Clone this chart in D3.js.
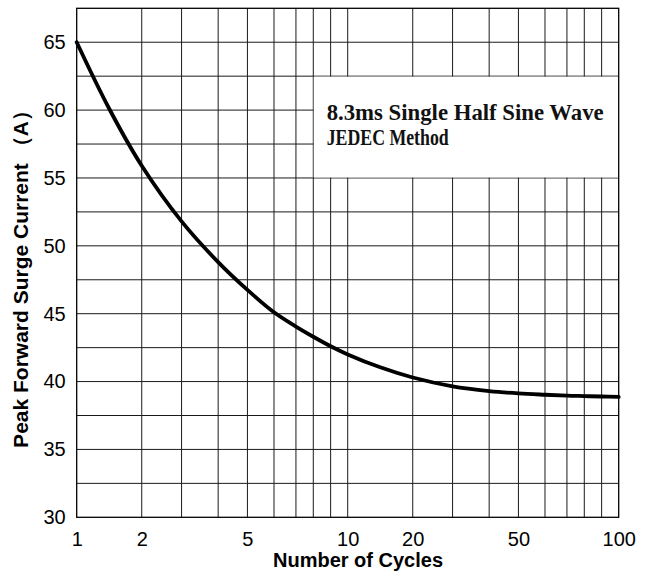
<!DOCTYPE html>
<html>
<head>
<meta charset="utf-8">
<script src="https://cdn.jsdelivr.net/npm/d3@7"></script>
<style>
    body { margin: 0; background: #fff; }
    svg { display: block; }
</style>
</head>
<body>
<svg id="surge-chart"></svg>
<script>
const CHART_WIDTH = 655;
const CHART_HEIGHT = 574;

const PADDING = {
    top: 8.3,
    bottom: 56.7,
    start: 76.7,
    end: 36.3
};

// data
const cycles = [1, 1.5, 2, 3, 4, 5, 6, 7, 8, 9, 10, 15, 20, 30, 40, 50, 60, 70, 80, 90, 100];
const surgeCurrent = [65, 60.1, 55.9, 51.8, 48.8, 46.75, 45.1, 44.05, 43.3, 42.6, 42.0, 41.05, 40.3, 39.65, 39.3, 39.13, 39.03, 38.96, 38.93, 38.9, 38.87];

// the paper is not a true log grid: where each mantissa sits inside a decade
const mantissas = [1, 2, 3, 4, 5, 6, 7, 8, 9, 10];
const decadeFractions = [0, 0.240, 0.387, 0.522, 0.630, 0.728, 0.809, 0.873, 0.937, 1];
const gridCycles = [1, 2, 3, 4, 5, 6, 7, 8, 9, 10, 20, 30, 40, 50, 60, 70, 80, 90, 100];
const xTickValues = [1, 2, 5, 10, 20, 50, 100];

const yDomain = [30, 67.5];
const yTickValues = [30, 35, 40, 45, 50, 55, 60, 65];
const yGridValues = [32.5, 35, 37.5, 40, 42.5, 45, 47.5, 50, 52.5, 55, 57.5, 60, 62.5, 65];

const noteLines = ["8.3ms Single Half Sine Wave", "JEDEC Method"];
const noteBox = { from: 55, to: 62.5, startCycles: 8 };

const xTitle = "Number of Cycles";
const yTitle = "Peak Forward Surge Current （A）";

function createChart() {
    const svg = d3.select("#surge-chart")
        .attr("width", CHART_WIDTH)
        .attr("height", CHART_HEIGHT);

    const left = PADDING.start;
    const right = CHART_WIDTH - PADDING.end;
    const top = PADDING.top;
    const bottom = CHART_HEIGHT - PADDING.bottom;

    const inDecade = d3.scaleLinear().domain(mantissas).range(decadeFractions);
    const decades = d3.scaleLinear().domain([0, 2]).range([left, right]);
    const gridPositions = gridCycles.map(n => {
        const d = Math.min(2, Math.floor(Math.log10(n) + 1e-9));
        const m = n / Math.pow(10, d);
        return decades(d + (d >= 2 ? 0 : inDecade(m)));
    });

    let xScale = d3.scaleLinear()
        .domain(gridCycles)
        .range(gridPositions);

    let yScale = d3.scaleLinear()
        .domain(yDomain)
        .range([bottom, top]);

    // grid
    const grid = svg.append("g").classed("grid", true)
        .attr("stroke", "#1a1a1a")
        .attr("stroke-width", 1);

    grid.selectAll(".v-line")
        .data(gridCycles.slice(1, -1))
        .enter()
        .append("line")
            .classed("v-line", true)
            .attr("x1", d => xScale(d))
            .attr("x2", d => xScale(d))
            .attr("y1", top)
            .attr("y2", bottom);

    grid.selectAll(".h-line")
        .data(yGridValues)
        .enter()
        .append("line")
            .classed("h-line", true)
            .attr("x1", left)
            .attr("x2", right)
            .attr("y1", d => yScale(d))
            .attr("y2", d => yScale(d));

    // note box blanks out the grid
    const boxX = xScale(noteBox.startCycles);
    svg.append("rect")
        .attr("x", boxX + 0.5)
        .attr("y", yScale(noteBox.to) + 0.5)
        .attr("width", right - boxX - 0.5)
        .attr("height", yScale(noteBox.from) - yScale(noteBox.to) - 1)
        .attr("fill", "#fff");

    svg.append("rect")
        .attr("x", left)
        .attr("y", top)
        .attr("width", right - left)
        .attr("height", bottom - top)
        .attr("fill", "none")
        .attr("stroke", "#000")
        .attr("stroke-width", 1.3);

    const note = svg.append("g")
        .style("font-family", "'Liberation Serif', 'DejaVu Serif', serif")
        .style("font-weight", "bold")
        .style("font-size", "24px")
        .attr("fill", "#111");

    note.append("text")
        .attr("x", 326.7)
        .attr("y", 120)
        .attr("textLength", 277)
        .attr("lengthAdjust", "spacingAndGlyphs")
        .text(noteLines[0]);

    note.append("text")
        .attr("x", 326.7)
        .attr("y", 145)
        .attr("textLength", 122)
        .attr("lengthAdjust", "spacingAndGlyphs")
        .text(noteLines[1]);

    // curve
    const line = d3.line()
        .x((d, i) => xScale(cycles[i]))
        .y(d => yScale(d))
        .curve(d3.curveCatmullRom.alpha(0.5));

    svg.append("path")
        .datum(surgeCurrent)
        .attr("d", line)
        .attr("fill", "none")
        .attr("stroke", "#000")
        .attr("stroke-width", 3.8)
        .attr("stroke-linecap", "round");

    // axes
    let xAxis = d3.axisBottom(xScale)
        .tickValues(xTickValues)
        .tickSize(0)
        .tickPadding(15)
        .tickFormat(d3.format("d"));
    svg.append("g")
        .classed("x-axis", true)
        .attr("transform", `translate(0, ${bottom})`)
        .call(xAxis)
        .call(g => g.select(".domain").remove());

    let yAxis = d3.axisLeft(yScale)
        .tickValues(yTickValues)
        .tickSize(0)
        .tickPadding(11)
        .tickFormat(d3.format("d"));
    svg.append("g")
        .classed("y-axis", true)
        .attr("transform", `translate(${left}, 0)`)
        .call(yAxis)
        .call(g => g.select(".domain").remove());

    svg.selectAll(".x-axis text, .y-axis text")
        .style("font-family", "'Liberation Sans', Arial, sans-serif")
        .style("font-size", "20px")
        .attr("fill", "#000");

    svg.append("text")
        .attr("x", 358)
        .attr("y", 567)
        .style("text-anchor", "middle")
        .style("font-family", "'Liberation Sans', Arial, sans-serif")
        .style("font-weight", "bold")
        .style("font-size", "20px")
        .text(xTitle);

    svg.append("text")
        .attr("transform", "rotate(-90)")
        .attr("x", -274)
        .attr("y", 28)
        .style("text-anchor", "middle")
        .style("font-family", "'Liberation Sans', Arial, sans-serif")
        .style("font-weight", "bold")
        .style("font-size", "21px")
        .text(yTitle);
}

createChart();
</script>
</body>
</html>
